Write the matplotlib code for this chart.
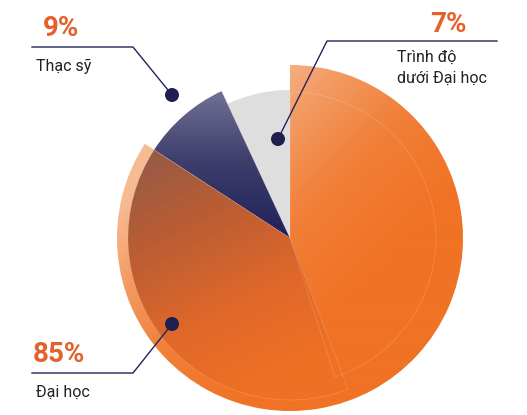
import numpy as np
import matplotlib
matplotlib.use('Agg')
import matplotlib.pyplot as plt
from matplotlib.patches import Wedge, Circle
from matplotlib.colors import to_rgb

# data
labels = ['Đại học', 'Thạc sỹ', 'Trình độ\ndưới Đại học']
values = [85, 9, 7]
pct_text = [f'{v}%' for v in values]

W, H = 527, 415
cx, cy = 290, 238
radii = [173, 162, 148]

plt.rcParams['font.family'] = ['Roboto', 'DejaVu Sans']

fig = plt.figure(figsize=(W / 100, H / 100), dpi=100)
ax = fig.add_axes([0, 0, 1, 1])
ax.set_xlim(0, W)
ax.set_ylim(H, 0)
ax.set_aspect('equal')
ax.axis('off')

# pixel grid for gradients
yy, xx = np.mgrid[0:H, 0:W] + 0.5


def grad_img(stops, t):
    t = np.clip(t, 0, 1)
    pos = [s[0] for s in stops]
    cols = np.array([to_rgb(s[1]) for s in stops])
    img = np.zeros((H, W, 4))
    for k in range(3):
        img[..., k] = np.interp(t, pos, cols[:, k])
    img[..., 3] = 1
    return img


def fill(patch, img, z):
    patch.set_facecolor('none')
    patch.set_edgecolor('none')
    ax.add_patch(patch)
    im = ax.imshow(img, extent=(0, W, H, 0), origin='upper', zorder=z, interpolation='bilinear')
    im.set_clip_path(patch)


# angles (y axis inverted -> data angles run clockwise on screen)
total = sum(values)
sweeps = [v / total * 360 for v in values]
starts = [-90]
for s in sweeps[:-1]:
    starts.append(starts[-1] + s)
ends = [a + s for a, s in zip(starts, sweeps)]

# gray slice
ax.add_patch(Wedge((cx, cy), radii[2], starts[2], ends[2], facecolor='#dedede', edgecolor='none', zorder=1))

# navy slice
t = (yy - 85) / 150
fill(Wedge((cx, cy), radii[1], starts[1], ends[1]),
     grad_img([(0, '#76769a'), (0.5, '#3e3f6c'), (1, '#20215a')], t), 2)
ax.plot([cx, cx + radii[1] * np.cos(np.radians(ends[1]))],
        [cy, cy + radii[1] * np.sin(np.radians(ends[1]))], color='white', lw=0.6, alpha=0.3, zorder=3)

# orange slice - outer light layer
t = ((xx - 290) + (yy - 65)) / np.sqrt(2)
t = (t + 20) / 230
fill(Wedge((cx, cy), radii[0], starts[0], ends[0]),
     grad_img([(0, '#f7bb93'), (0.25, '#f39c64'), (0.6, '#f07e36'), (1, '#f07224')], t), 4)

# orange slice - darker inner layer on the left
t = ((xx - 140) * 0.45 + (yy - 150) * 0.89) / 260
fill(Wedge((cx, cy), radii[1], 69, ends[0]),
     grad_img([(0, '#945a48'), (0.35, '#bb5d33'), (0.7, '#e0682a'), (1, '#ef7024')], t), 5)
ax.add_patch(Wedge((cx, cy), radii[1], 69, ends[0], facecolor='none', edgecolor='white',
                   lw=0.5, alpha=0.2, zorder=6))

# faint outline on the right part
ax.add_patch(Wedge((cx, cy), 146, -90, 72, facecolor='none', edgecolor='white', lw=0.5, alpha=0.2, zorder=6))

# annotations
orange = '#e4602c'
navy = '#22235a'
ann = [
    # (dot, elbow, line end, pct pos, label pos, pct align)
    ((172, 324), (133, 373), (32, 373), (33, 362), (36, 397), 'left'),
    ((172, 95), (133, 47), (32, 47), (43, 36), (36, 71), 'left'),
    ((278, 139), (327, 41), (497, 41), (467, 32), (397, 62), 'right'),
]
for i, (dot, elbow, lend, ppos, lpos, ha) in enumerate(ann):
    ax.plot([dot[0], elbow[0], lend[0]], [dot[1], elbow[1], lend[1]], color=navy, lw=1.0, zorder=8)
    ax.add_patch(Circle(dot, 7, facecolor='#1f1f50', edgecolor='none', zorder=9))
    ax.text(ppos[0], ppos[1], pct_text[i], color=orange, fontsize=20, fontweight='bold',
            ha=ha, va='baseline', zorder=9)
    for j, line in enumerate(labels[i].split('\n')):
        ax.text(lpos[0], lpos[1] + j * 21, line, color='#222222', fontsize=11.5,
                ha='left', va='baseline', zorder=9)

fig.savefig('out.png', dpi=100)
